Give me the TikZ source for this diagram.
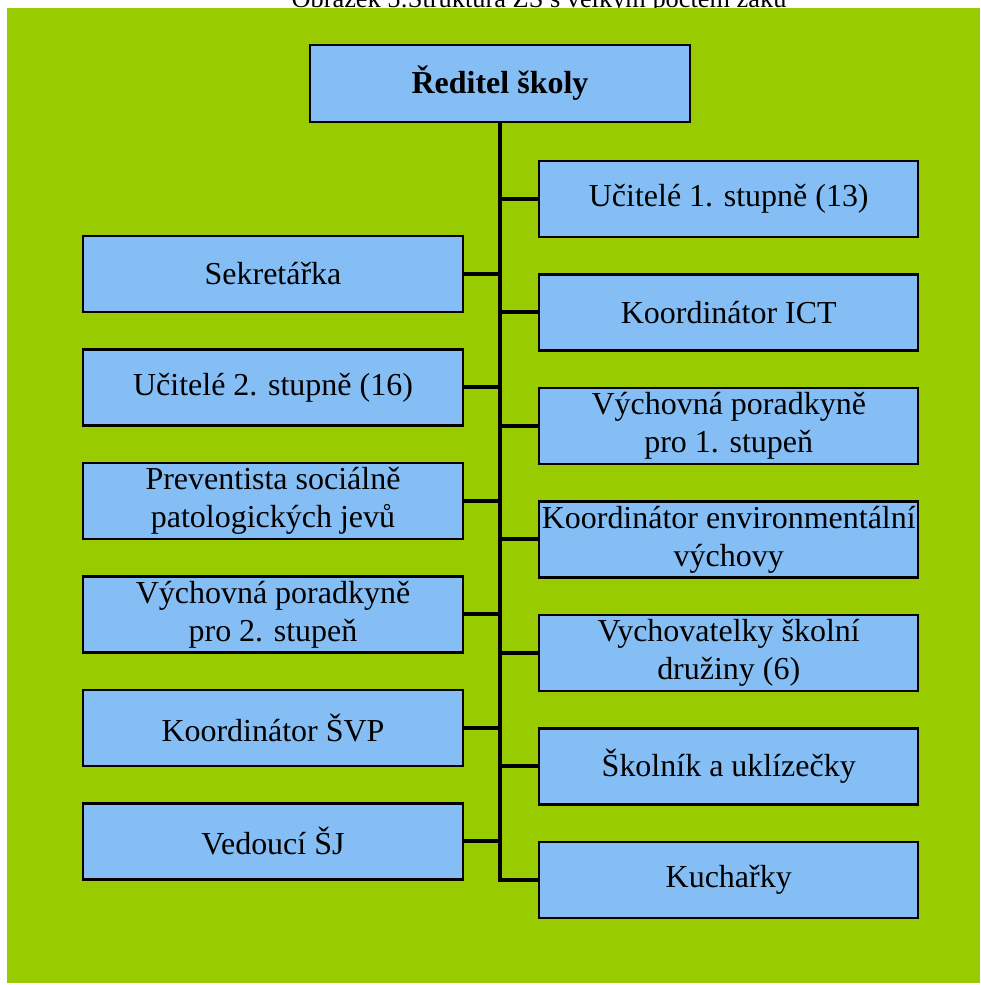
\documentclass[tikz,border=0pt]{standalone}
\usepackage{fontspec}
\setmainfont{Liberation Serif}
\usetikzlibrary{positioning}

\definecolor{pozadi}{RGB}{153,204,0}
\definecolor{modra}{RGB}{133,190,245}

\begin{document}
\begin{tikzpicture}[
    box/.style={draw, line width=1.4pt, fill=modra, align=center, inner sep=1pt,
                minimum width=7.6cm, minimum height=1.52cm},
    vetev/.style={line width=2.3pt},
    node distance=0.70cm,
    font=\fontsize{18.2pt}{21.6pt}\selectfont
]
\useasboundingbox (0,0) rectangle (19.6,-19.7);

% Popisek nad obrazkem (oriznuty)
\node[anchor=base, font=\fontsize{15pt}{18pt}\selectfont] (popis) at (10.78,-0.15)
{Obrázek 5:Struktura ZŠ s velkým počtem žáků};

% Zelene pozadi
\fill[pozadi] (0.15,-0.16) rectangle (19.6,-19.66);

% Reditel
\node[box, minimum height=1.54cm] (reditel) at (10.0,-1.67) {\textbf{Ředitel školy}};

% Pravy sloupec
\node[box, minimum width=7.58cm, anchor=west] (ucitele1) at (10.76,-3.98) {Učitelé 1. stupně (13)};
\node[box, minimum width=7.58cm, below=of ucitele1] (ict) {Koordinátor ICT};
\node[box, minimum width=7.58cm, below=of ict] (poradce1) {Výchovná poradkyně\\ pro 1. stupeň};
\node[box, minimum width=7.58cm, below=of poradce1] (enviro) {Koordinátor environmentální\\ výchovy};
\node[box, minimum width=7.58cm, below=of enviro] (druzina) {Vychovatelky školní\\ družiny (6)};
\node[box, minimum width=7.58cm, below=of druzina] (skolnik) {Školník a uklízečky};
\node[box, minimum width=7.58cm, below=of skolnik] (kucharky) {Kuchařky};

% Levy sloupec
\node[box] (sekretarka) at (5.46,-5.48) {Sekretářka};
\node[box, below=of sekretarka] (ucitele2) {Učitelé 2. stupně (16)};
\node[box, below=of ucitele2] (prevence) {Preventista sociálně\\ patologických jevů};
\node[box, below=of prevence] (poradce2) {Výchovná poradkyně\\ pro 2. stupeň};
\node[box, below=of poradce2] (svp) {Koordinátor ŠVP};
\node[box, below=of svp] (sj) {Vedoucí ŠJ};

% Kmen
\draw[vetev] (reditel.south) -- (reditel.south |- kucharky.west) -- (kucharky.west);

% Vetve vpravo
\draw[vetev] (ucitele1.west -| reditel.south) -- (ucitele1.west);
\draw[vetev] (ict.west -| reditel.south) -- (ict.west);
\draw[vetev] (poradce1.west -| reditel.south) -- (poradce1.west);
\draw[vetev] (enviro.west -| reditel.south) -- (enviro.west);
\draw[vetev] (druzina.west -| reditel.south) -- (druzina.west);
\draw[vetev] (skolnik.west -| reditel.south) -- (skolnik.west);

% Vetve vlevo
\draw[vetev] (sekretarka.east) -- (sekretarka.east -| reditel.south);
\draw[vetev] (ucitele2.east) -- (ucitele2.east -| reditel.south);
\draw[vetev] (prevence.east) -- (prevence.east -| reditel.south);
\draw[vetev] (poradce2.east) -- (poradce2.east -| reditel.south);
\draw[vetev] (svp.east) -- (svp.east -| reditel.south);
\draw[vetev] (sj.east) -- (sj.east -| reditel.south);

\end{tikzpicture}
\end{document}
